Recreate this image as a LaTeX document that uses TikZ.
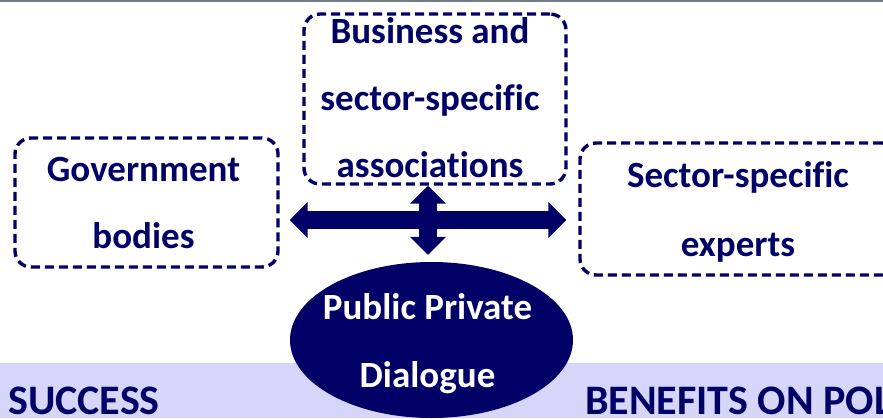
\documentclass[tikz,border=0pt]{standalone}
\usepackage{fontspec}
\setmainfont{Carlito}[Ligatures=NoCommon]
\usetikzlibrary{arrows.meta,calc,shapes.geometric}
\definecolor{navy}{RGB}{0,0,102}
\definecolor{bandcol}{RGB}{214,214,250}
\definecolor{toplinecol}{RGB}{110,125,135}
\tikzset{
  dbox/.style={draw=navy, line width=3.4pt, dash pattern=on 9pt off 5pt, rounded corners=16pt, inner sep=0pt},
  lbl/.style={text=navy, font=\bfseries\fontsize{37}{67}\selectfont, align=center, inner sep=0pt, anchor=base},
  bandlbl/.style={text=navy, font=\bfseries\fontsize{42}{50}\selectfont, inner sep=0pt, anchor=base west},
  blockarrow/.style={draw=navy, line width=18pt, {Triangle[width=35pt,length=18pt]}-{Triangle[width=35pt,length=18pt]}},
}
\begin{document}
\begin{tikzpicture}[x=1pt,y=-1pt]
\useasboundingbox (0,0) rectangle (883,418);
\clip (0,0) rectangle (883,418);
% top line
\fill[toplinecol] (0,0) rectangle (883,2);
% band
\fill[bandcol] (0,363) rectangle (883,418);
% boxes
\node[dbox, minimum width=262pt, minimum height=170pt] (biz) at (435,99) {};
\node[dbox, minimum width=263pt, minimum height=129pt] (gov) at (146.5,202.5) {};
\node[dbox, minimum width=318pt, minimum height=132pt] (sec) at (739,209) {};
\node[lbl] (biztxt) at (430,177) {Business and\\sector-specific\\associations};
\node[lbl] (govtxt) at (143.5,248) {Government\\bodies};
\node[lbl, font=\bfseries\fontsize{37}{69}\selectfont] (sectxt) at (738,256) {Sector-specific\\experts};
% ellipse
\node[ellipse, fill=navy, minimum width=283pt, minimum height=156pt, inner sep=0pt] (ppd) at (431.5,340) {};
\node[lbl, text=white, font=\bfseries\fontsize{37}{68}\selectfont] (ppdtxt) at (427.5,387) {Public Private\\Dialogue};
% arrows
\coordinate (hy) at (0,220);
\coordinate (vx) at (428,0);
\draw[blockarrow] ([xshift=10pt]gov.east |- hy) -- ([xshift=-12pt]sec.west |- hy);
\draw[blockarrow] (vx |- biz.south) -- ([yshift=7pt]vx |- ppd.north);
% band labels
\node[bandlbl] (succ) at (8,414) {SUCCESS};
\node[bandlbl] (bene) at (585,414) {BENEFITS ON POL};
\end{tikzpicture}
\end{document}
